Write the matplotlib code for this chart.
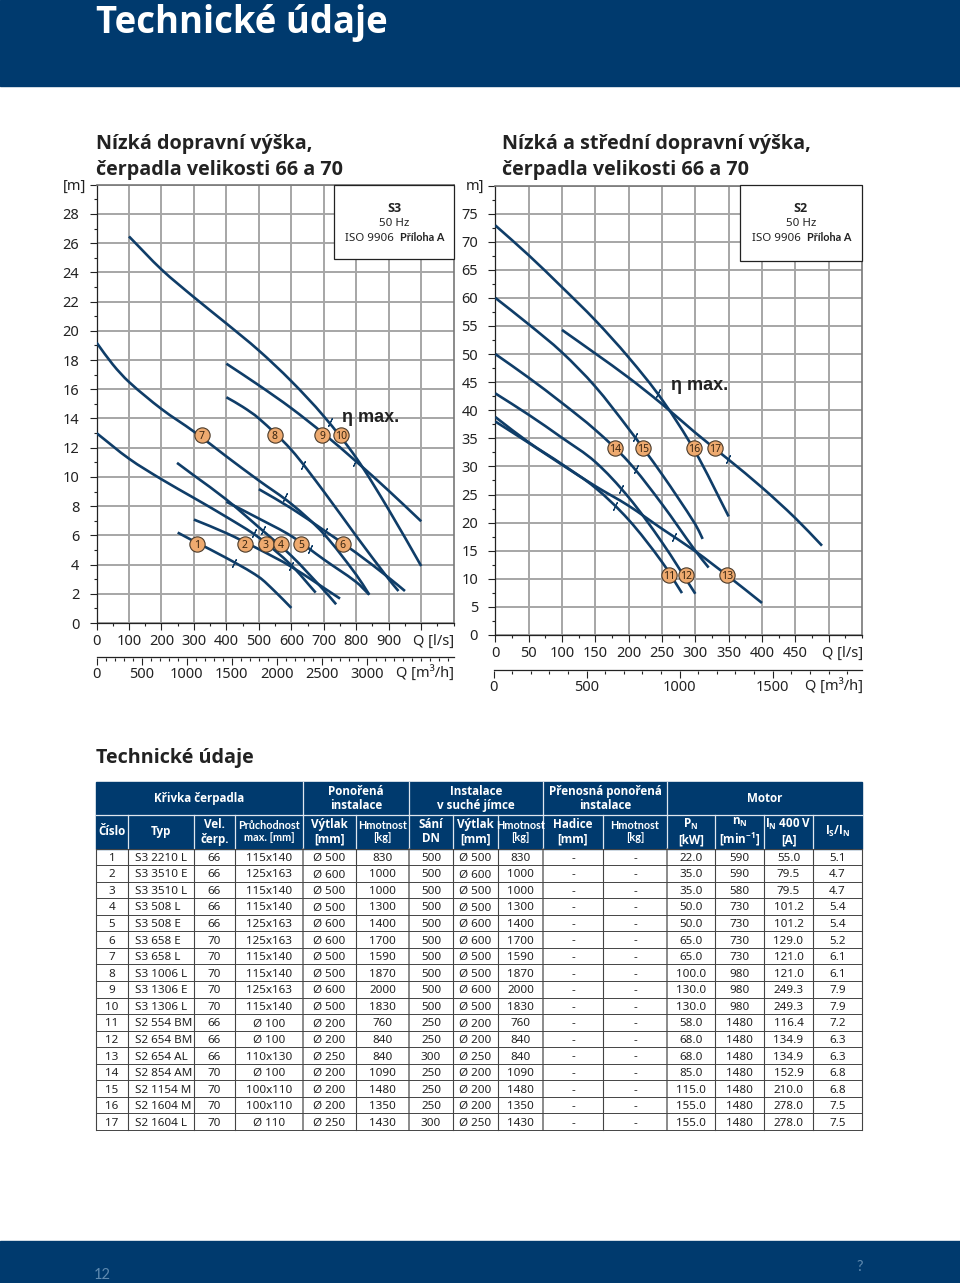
#!/usr/bin/env python3
"""Technical data page: S3 and S2 pump curves with the table below."""
import matplotlib
matplotlib.use('Agg')
import matplotlib.pyplot as plt
from matplotlib.patches import PathPatch, Rectangle
from matplotlib.path import Path

plt.rcParams.update({
    'font.family': ['Noto Sans', 'DejaVu Sans'], 'font.size': 10,
    'mathtext.default': 'regular',
})

BOLD = ['Open Sans', 'DejaVu Sans']
NARROW = ['Lato', 'DejaVu Sans']
NAVY = '#003a6e'
CURVE = '#0f3d68'
GRID = '#a6a6a6'
INK = '#222222'
W, H = 960, 1283

# S3 curves, numbered as in the table
s3_q = [
    [250, 300, 400, 500, 550, 600],
    [300, 400, 500, 600, 750],
    [0, 100, 200, 300, 400, 500, 600, 675],
    [248, 300, 400, 500, 600, 700, 738],
    [400, 500, 600, 700, 800, 840],
    [500, 600, 700, 800, 900, 950],
    [0, 50, 100, 200, 300, 400, 500, 600, 700, 800, 840],
    [400, 450, 500, 600, 700, 800, 900, 930],
    [400, 500, 600, 700, 800, 900, 1000],
    [100, 200, 300, 400, 500, 600, 700, 800, 900, 1000],
]
s3_h = [
    [6.19, 5.6, 4.45, 3.15, 2.15, 1.03],
    [7.08, 6.15, 5.05, 3.85, 1.67],
    [13.0, 11.25, 9.84, 8.56, 7.26, 5.85, 3.95, 2.08],
    [10.96, 10.1, 8.45, 6.55, 4.6, 2.25, 1.28],
    [8.3, 7.15, 5.95, 4.35, 2.8, 1.94],
    [9.16, 7.85, 6.35, 4.8, 3.1, 2.19],
    [19.2, 17.7, 16.5, 14.65, 13.1, 11.4, 9.75, 8.15, 6.1, 3.3, 1.94],
    [15.45, 14.8, 14.0, 11.85, 9.0, 5.95, 3.0, 2.19],
    [17.75, 16.27, 14.7, 12.95, 11.05, 9.05, 6.96],
    [26.46, 24.2, 22.3, 20.5, 18.65, 16.55, 14.15, 11.3, 7.75, 3.9],
]
s3_bep_q = [425, 598, 484, 514, 657, 703, 582, 637, 795, 719]
s3_bep_h = [4.13, 3.9, 6.16, 6.39, 5.05, 6.23, 8.63, 10.8, 11.03, 13.77]
s3_tag_q = [311, 456, 521, 569, 631, 758, 324, 549, 696, 752]
s3_tag_h = [5.43, 5.43, 5.43, 5.43, 5.43, 5.43, 12.87, 12.87, 12.87, 12.87]

# S2 curves
s2_q = [
    [0, 50, 100, 150, 200, 250, 280],
    [0, 50, 100, 150, 200, 250, 300],
    [0, 50, 100, 150, 200, 250, 300, 350, 400],
    [0, 50, 100, 150, 200, 250, 300, 320],
    [0, 50, 100, 150, 200, 250, 300, 311],
    [0, 50, 100, 150, 200, 250, 300, 350],
    [100, 150, 200, 250, 300, 350, 400, 450, 490],
]
s2_h = [
    [38.8, 34.3, 30.4, 26.2, 20.5, 13.0, 7.46],
    [43.0, 39.2, 35.1, 30.8, 24.5, 16.5, 7.34],
    [38.0, 34.2, 30.3, 26.5, 23.0, 18.9, 14.9, 10.4, 5.7],
    [50.0, 45.8, 41.3, 36.5, 30.8, 23.3, 15.0, 12.0],
    [60.0, 55.3, 50.3, 44.2, 36.7, 28.6, 19.7, 17.1],
    [72.9, 67.6, 61.9, 56.0, 49.4, 41.9, 32.6, 21.1],
    [54.3, 50.1, 45.8, 41.1, 36.0, 31.2, 26.25, 20.8, 15.9],
]
s2_bep_q = [180, 189, 268, 211, 209, 244, 349]
s2_bep_h = [22.9, 26.0, 17.4, 29.5, 35.2, 43.1, 31.4]
s2_tag_q = [260.5, 286, 348, 180, 222, 297.5, 330]
s2_tag_h = [10.6, 10.6, 10.6, 33.2, 33.2, 33.2, 33.2]

# table
cislo = list(range(1, 18))
typ = ['S3 2210 L', 'S3 3510 E', 'S3 3510 L', 'S3 508 L', 'S3 508 E', 'S3 658 E', 'S3 658 L',
       'S3 1006 L', 'S3 1306 E', 'S3 1306 L', 'S2 554 BM', 'S2 654 BM', 'S2 654 AL',
       'S2 854 AM', 'S2 1154 M', 'S2 1604 M', 'S2 1604 L']
vel = [66, 66, 66, 66, 66, 70, 70, 70, 70, 70, 66, 66, 66, 70, 70, 70, 70]
pruchod = ['115x140', '125x163', '115x140', '115x140', '125x163', '125x163', '115x140', '115x140',
           '125x163', '115x140', 'Ø 100', 'Ø 100', '110x130', 'Ø 100', '100x110', '100x110', 'Ø 110']
vytlak = ['Ø 500', 'Ø 600', 'Ø 500', 'Ø 500', 'Ø 600', 'Ø 600', 'Ø 500', 'Ø 500', 'Ø 600', 'Ø 500',
          'Ø 200', 'Ø 200', 'Ø 250', 'Ø 200', 'Ø 200', 'Ø 200', 'Ø 250']
hmotnost = [830, 1000, 1000, 1300, 1400, 1700, 1590, 1870, 2000, 1830, 760, 840, 840, 1090, 1480, 1350, 1430]
sani = [500] * 10 + [250, 250, 300, 250, 250, 250, 300]
hadice = ['-'] * 17
pn = ['22.0', '35.0', '35.0', '50.0', '50.0', '65.0', '65.0', '100.0', '130.0', '130.0',
      '58.0', '68.0', '68.0', '85.0', '115.0', '155.0', '155.0']
nn = [590, 590, 580, 730, 730, 730, 730, 980, 980, 980, 1480, 1480, 1480, 1480, 1480, 1480, 1480]
i_n = ['55.0', '79.5', '79.5', '101.2', '101.2', '129.0', '121.0', '121.0', '249.3', '249.3',
       '116.4', '134.9', '134.9', '152.9', '210.0', '278.0', '278.0']
is_in = ['5.1', '4.7', '4.7', '5.4', '5.4', '5.2', '6.1', '6.1', '7.9', '7.9',
         '7.2', '6.3', '6.3', '6.8', '6.8', '7.5', '7.5']
columns = [cislo, typ, vel, pruchod, vytlak, hmotnost, sani, vytlak, hmotnost, hadice, hadice, pn, nn, i_n, is_in]
col_heads = ['Číslo', 'Typ', 'Vel.\nčerp.', 'Průchodnost\nmax. [mm]', 'Výtlak\n[mm]', 'Hmotnost\n[kg]',
             'Sání\nDN', 'Výtlak\n[mm]', 'Hmotnost\n[kg]', 'Hadice\n[mm]', 'Hmotnost\n[kg]',
             'P$_N$\n[kW]', 'n$_N$\n[min$^{-1}$]', 'I$_N$ 400 V\n[A]', 'I$_S$/I$_N$']
group_heads = ['Křivka čerpadla', 'Ponořená\ninstalace', 'Instalace\nv suché jímce',
               'Přenosná ponořená\ninstalace', 'Motor']

col_x = [96, 128, 194, 235, 303, 356, 409, 453, 498, 543, 603, 667, 715, 764, 813, 862]
group_x = [96, 303, 409, 543, 667, 862]
head_top, head_mid, head_bot = 782, 815, 848.5
row_h = 16.56


def px_axes(fig, x0, y0, x1, y1):
    # axes box given in image pixels, y measured from the top
    return fig.add_axes([x0 / W, 1 - y1 / H, (x1 - x0) / W, (y1 - y0) / H])


def smooth_path(q, h):
    # bezier through the read points, so the curves have no corners
    n = len(q)
    verts = [(q[0], h[0])]
    codes = [Path.MOVETO]
    for i in range(n - 1):
        a = max(i - 1, 0)
        b = min(i + 2, n - 1)
        d = q[i + 1] - q[i]
        s0 = (h[i + 1] - h[a]) / (q[i + 1] - q[a])
        s1 = (h[b] - h[i]) / (q[b] - q[i])
        verts += [(q[i] + d / 3, h[i] + s0 * d / 3), (q[i + 1] - d / 3, h[i + 1] - s1 * d / 3), (q[i + 1], h[i + 1])]
        codes += [Path.CURVE4] * 3
    return Path(verts, codes)


def pump_chart(box, xlim, ylim, qs, hs, bep_q, bep_h, tag_q, tag_h, first_tag, xmaj, xmin_, ymaj, ymin_, ylab):
    ax = px_axes(fig, *box)
    ax.patch.set_alpha(0)
    ax.set_xlim(xlim)
    ax.set_ylim(ylim)
    ax.set_xticks(xmaj)
    ax.set_xticks(xmin_, minor=True)
    ax.set_yticks(ymaj)
    ax.set_yticks(ymin_, minor=True)
    ax.set_yticklabels(ylab)
    ax.grid(True, which='major', color=GRID, linewidth=1.4, zorder=0)
    ax.set_axisbelow(True)
    ax.tick_params(which='major', length=5, width=0.8, color='#222222', labelsize=10.5, labelcolor=INK)
    ax.tick_params(axis='y', which='major', pad=7.5)
    ax.tick_params(axis='x', which='major', pad=3)
    ax.tick_params(which='minor', length=2.5, width=0.8, color='#222222')
    for s in ['top', 'right']:
        ax.spines[s].set_color('#777777')
        ax.spines[s].set_linewidth(1.2)
    for s in ['left', 'bottom']:
        ax.spines[s].set_color('#222222')
        ax.spines[s].set_linewidth(0.9)
    for q, h in zip(qs, hs):
        ax.add_patch(PathPatch(smooth_path(q, h), facecolor='none', edgecolor=CURVE, linewidth=1.9,
                               capstyle='butt', zorder=3))
    ax.plot(bep_q, bep_h, linestyle='none', marker=(2, 2, -25), markersize=6.5, markeredgewidth=0.8,
            color=CURVE, zorder=4)
    ax.plot(tag_q, tag_h, linestyle='none', marker='o', markersize=11, markerfacecolor='#eeaa6f',
            markeredgecolor='#4a3a2a', markeredgewidth=0.8, zorder=5)
    for i, (q, h) in enumerate(zip(tag_q, tag_h)):
        ax.text(q, h, str(i + first_tag), ha='center', va='center_baseline', fontsize=7.5,
                color='#3a2510', zorder=6)
    return ax


def flow_axis(box, xlim, major, minor):
    ax = px_axes(fig, *box)
    ax.patch.set_alpha(0)
    for s in ['left', 'right', 'bottom']:
        ax.spines[s].set_visible(False)
    ax.spines['top'].set_color('#222222')
    ax.spines['top'].set_linewidth(0.9)
    ax.set_xlim(xlim)
    ax.set_xticks(major)
    ax.set_xticks(minor, minor=True)
    ax.set_yticks([])
    ax.tick_params(which='major', length=5, width=0.8, color='#222222', labelsize=10.5, labelcolor=INK, pad=1.5)
    ax.tick_params(which='minor', length=2.5, width=0.8, color='#222222')
    return ax


fig = plt.figure(figsize=(W / 100, H / 100), dpi=100, facecolor='white')
page = fig.add_axes([0, 0, 1, 1])
page.set_xlim(0, W)
page.set_ylim(H, 0)
page.axis('off')

# bands
page.add_patch(Rectangle((0, 0), W, 86, color=NAVY))
page.add_patch(Rectangle((0, 1241), W, 42, color=NAVY))
page.text(96, 33, 'Technické údaje', color='white', fontsize=26.3, family=BOLD, fontweight='bold', va='baseline')
page.text(102, 1275, '12', color='#5f8ab0', fontsize=10.5, ha='center', va='center', family=NARROW)
page.text(860, 1267, '?', color='#5f8ab0', fontsize=10.5, ha='center', va='center', family=NARROW)

# chart headings
for x, lines in [(96, ['Nízká dopravní výška,', 'čerpadla velikosti 66 a 70']),
                 (502, ['Nízká a střední dopravní výška,', 'čerpadla velikosti 66 a 70'])]:
    page.text(x, 143.5, lines[0], color=INK, fontsize=14.2, family=BOLD, fontweight='bold', va='center')
    page.text(x, 169.5, lines[1], color=INK, fontsize=14.2, family=BOLD, fontweight='bold', va='center')

# S3 chart
ax1 = pump_chart((96.5, 184.7, 454, 623), (0, 1101), (0, 30), s3_q, s3_h, s3_bep_q, s3_bep_h,
                 s3_tag_q, s3_tag_h, 1,
                 list(range(0, 1001, 100)), list(range(50, 1100, 100)) + [1100],
                 list(range(0, 31, 2)), list(range(1, 30, 2)),
                 [str(v) if v < 30 else '' for v in range(0, 31, 2)])
ax1.set_xticklabels([str(v) for v in range(0, 901, 100)] + [''])
flow_axis((96.5, 657, 454, 658), (0, 1101 * 3.6), list(range(0, 3001, 500)), list(range(0, 3901, 100)))

# S2 chart
ax2 = pump_chart((495.3, 185.5, 862, 635), (0, 549), (0, 80), s2_q, s2_h, s2_bep_q, s2_bep_h,
                 s2_tag_q, s2_tag_h, 11,
                 list(range(0, 501, 50)), list(range(25, 550, 50)) + [550],
                 list(range(0, 81, 5)), [v + 2.5 for v in range(0, 80, 5)],
                 [str(v) if v < 80 else '' for v in range(0, 81, 5)])
ax2.set_xticklabels([str(v) for v in range(0, 451, 50)] + [''])
flow_axis((493.5, 670, 862, 671), (0, 1980), [0, 500, 1000, 1500], list(range(0, 1981, 100)))

# axis captions
page.text(86, 186, '[m]', color=INK, fontsize=10.5, ha='right', va='center')
page.text(484, 186, 'm]', color=INK, fontsize=10.5, ha='right', va='center')
page.text(454, 641, 'Q [l/s]', color=INK, fontsize=10.5, ha='right', va='center')
page.text(454, 674, 'Q [m³/h]', color=INK, fontsize=10.5, ha='right', va='center')
page.text(863, 653, 'Q [l/s]', color=INK, fontsize=10.5, ha='right', va='center')
page.text(863, 687, 'Q [m³/h]', color=INK, fontsize=10.5, ha='right', va='center')

# eta labels and the two rating boxes
overlay = fig.add_axes([0, 0, 1, 1])
overlay.patch.set_alpha(0)
overlay.set_xlim(0, W)
overlay.set_ylim(H, 0)
overlay.axis('off')
overlay.text(342, 417, 'η max.', family='Liberation Sans', fontweight='bold', fontsize=13, color=INK, va='center')
overlay.text(671, 385, 'η max.', family='Liberation Sans', fontweight='bold', fontsize=13, color=INK, va='center')
for x0, x1, y1, name in [(334, 454, 259, 'S3'), (739.5, 862, 261, 'S2')]:
    cx = (x0 + x1) / 2
    overlay.add_patch(Rectangle((x0, 185), x1 - x0, y1 - 185, facecolor='white', edgecolor='#222222', linewidth=0.9))
    overlay.text(cx, 209, name, ha='center', va='center', fontsize=9, family=BOLD, fontweight='bold', color=INK)
    overlay.text(cx, 224, '50 Hz', ha='center', va='center', fontsize=8.3, color=INK)
    overlay.text(cx, 241, 'ISO 9906', ha='right', va='baseline', fontsize=8.3, color=INK)
    overlay.text(cx + 6, 241, 'Příloha A', ha='left', va='baseline', fontsize=7.8, family=NARROW, fontweight='bold', color=INK)

# table
page.text(96, 758, 'Technické údaje', color=INK, fontsize=14.2, family=BOLD, fontweight='bold', va='center')
n_rows = len(cislo)
table_bot = head_bot + n_rows * row_h
page.add_patch(Rectangle((96, head_top), 862 - 96, head_bot - head_top, color=NAVY))
for i, label in enumerate(group_heads):
    cx = (group_x[i] + group_x[i + 1]) / 2
    page.text(cx, (head_top + head_mid) / 2, label, color='white', fontsize=8.4, family=BOLD, fontweight='bold',
              ha='center', va='center', linespacing=1.05)
page.plot([96, 862], [head_mid, head_mid], color='#dfe6ee', linewidth=0.9)
for x in group_x[1:-1]:
    page.plot([x, x], [head_top, head_mid], color='#dfe6ee', linewidth=0.9)
for x in col_x[1:-1]:
    page.plot([x, x], [head_mid, head_bot], color='#dfe6ee', linewidth=0.9)
    page.plot([x, x], [head_bot, table_bot], color='#444444' if x not in group_x else '#777777',
              linewidth=0.8 if x not in group_x else 1.2)
for x in (96, 862):
    page.plot([x, x], [head_bot, table_bot], color='#444444', linewidth=0.8)
for j, label in enumerate(col_heads):
    cx = (col_x[j] + col_x[j + 1]) / 2
    small = 'Hmot' in label or 'Průch' in label
    page.text(cx, (head_mid + head_bot) / 2, label, color='white', ha='center', va='center',
              fontsize=7.8 if small else 8.4, family=NARROW if small else BOLD, fontweight='bold', linespacing=1.15)
for r in range(n_rows + 1):
    y = head_bot + r * row_h
    page.plot([96, 862], [y, y], color='#444444', linewidth=0.7)
for j, col in enumerate(columns):
    cx = (col_x[j] + col_x[j + 1]) / 2
    for r, val in enumerate(col):
        y = head_bot + (r + 0.5) * row_h
        if j == 1:
            page.text(col_x[j] + 7, y, str(val), color=INK, fontsize=8.4, ha='left', va='center_baseline')
        else:
            page.text(cx, y, str(val), color=INK, fontsize=8.4, ha='center', va='center_baseline')

fig.savefig('out.png', dpi=100)
plt.close(fig)
